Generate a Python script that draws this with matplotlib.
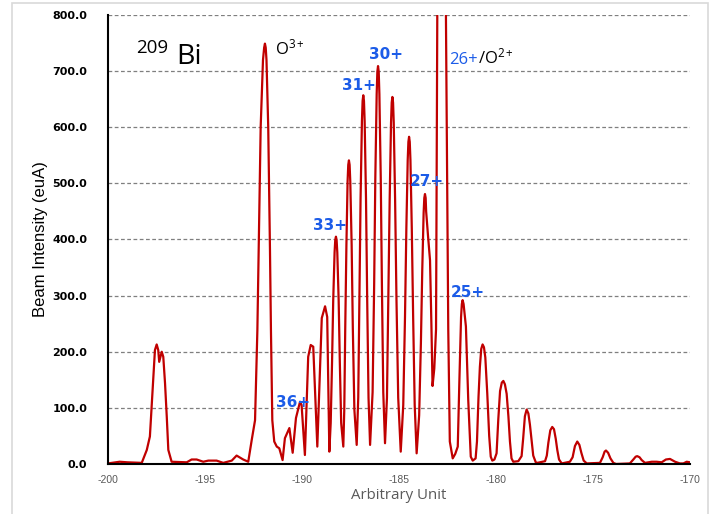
import matplotlib
matplotlib.use("Agg")
import matplotlib.pyplot as plt
from matplotlib.patches import Rectangle

# Beam intensity scan of the 209Bi charge-state spectrum
position = [
    -200.00, -199.40, -199.00, -198.26, -198.00, -197.84, -197.66, -197.58, -197.49, -197.41,
    -197.36, -197.23, -197.15, -197.06, -196.97, -196.89, -196.72, -195.94, -195.69, -195.43,
    -195.09, -194.83, -194.40, -194.06, -193.62, -193.37, -193.03, -192.77, -192.59, -192.42,
    -192.30, -192.13, -192.01, -191.95, -191.91, -191.87, -191.83, -191.74, -191.65, -191.60,
    -191.53, -191.43,
    -191.30, -191.17, -191.00, -190.88, -190.65, -190.48, -190.31, -190.10, -190.02, -189.85,
    -189.68, -189.55, -189.42, -189.21, -188.98, -188.81, -188.70, -188.59,
    -188.52, -188.45, -188.39, -188.32, -188.285, -188.25, -188.215, -188.18, -188.11, -188.05,
    -187.98, -187.87,
    -187.82, -187.77, -187.71, -187.65, -187.615, -187.58, -187.545, -187.51, -187.44, -187.38,
    -187.30, -187.18,
    -187.10, -187.04, -186.98, -186.91, -186.875, -186.84, -186.805, -186.77, -186.70, -186.64,
    -186.57, -186.49,
    -186.36, -186.28, -186.22, -186.15, -186.115, -186.08, -186.045, -186.01, -185.94, -185.88,
    -185.81, -185.72,
    -185.62, -185.55, -185.48, -185.41, -185.375, -185.34, -185.305, -185.27, -185.20, -185.13,
    -185.04, -184.91,
    -184.78, -184.69, -184.62, -184.55, -184.515, -184.48, -184.445, -184.41, -184.34, -184.27,
    -184.19, -184.09,
    -183.96, -183.87, -183.80, -183.73, -183.695, -183.66, -183.625, -183.60, -183.50, -183.40,
    -183.33, -183.27,
    -183.18, -183.09, -183.03, -182.95, -182.81, -182.67, -182.58, -182.46, -182.38, -182.23,
    -182.10, -181.97, -181.89, -181.80, -181.76, -181.72, -181.67, -181.60, -181.55, -181.43,
    -181.30, -181.20,
    -181.05, -180.98, -180.90, -180.83, -180.76, -180.69, -180.62, -180.55, -180.45, -180.35,
    -180.27, -180.19,
    -180.08, -179.97, -179.88, -179.79, -179.70, -179.62, -179.54, -179.45, -179.36, -179.28,
    -179.20, -179.11,
    -178.85, -178.68, -178.60, -178.51, -178.42, -178.33, -178.25, -178.16, -178.08, -177.95,
    -177.87,
    -177.47, -177.38, -177.30, -177.20, -177.10, -177.01, -176.92, -176.84, -176.75, -176.61,
    -176.19, -176.05, -175.93, -175.81, -175.70, -175.60, -175.48, -175.32,
    -174.64, -174.50, -174.40, -174.33, -174.22, -174.10, -173.95, -173.81,
    -173.10, -172.92, -172.80, -172.72, -172.60, -172.49, -172.32, -171.97, -171.72, -171.46,
    -171.24, -171.03, -170.77, -170.52, -170.34, -170.17, -170.00,
]
intensity = [
    1, 4, 3, 2, 25, 49, 155, 203, 213, 203,
    182, 200, 191, 144, 84, 25, 4, 3, 8, 8,
    4, 6, 6, 2, 6, 15, 8, 4, 43, 78,
    238, 600, 720, 742, 749, 742, 720, 600, 381, 238,
    78, 40,
    31, 28, 7, 46, 64, 20, 82, 111, 105, 16,
    191, 212, 209, 31, 260, 281, 262, 22,
    73, 182, 292, 377, 399, 405, 399, 377, 292, 182,
    73, 31,
    97, 243, 390, 503, 533, 541, 533, 503, 390, 243,
    97, 34,
    118, 296, 473, 611, 647, 657, 647, 611, 473, 296,
    118, 34,
    128, 319, 510, 659, 699, 709, 699, 659, 510, 319,
    128, 37,
    118, 294, 471, 608, 644, 654, 644, 608, 471, 294,
    118, 22,
    105, 262, 420, 542, 574, 583, 574, 542, 420, 262,
    105, 19,
    87, 216, 346, 447, 474, 481, 474, 450, 405, 363,
    250, 139,
    170, 240, 800, 1100, 1200, 1100, 800, 240, 40, 10,
    18, 31, 144, 262, 285, 292, 285, 262, 245, 114,
    13, 6,
    10, 40, 120, 173, 205, 213, 208, 190, 126, 50,
    13, 6,
    8, 19, 80, 130, 145, 148, 142, 125, 85, 40,
    10, 4,
    5, 14, 45, 85, 97, 90, 70, 40, 15, 3,
    2,
    5, 15, 38, 60, 66, 62, 45, 25, 8, 1,
    4, 12, 32, 40, 34, 20, 6, 1,
    2, 12, 22, 24, 20, 10, 2, 0,
    1, 8, 13, 14, 12, 7, 2, 4, 4, 3,
    8, 9, 4, 1, 1, 4, 3,
]

y_ticks = [0, 100, 200, 300, 400, 500, 600, 700, 800]
x_ticks = [-200, -195, -190, -185, -180, -175, -170]

charge_labels = ["36+", "33+", "31+", "30+", "27+", "25+"]

BLUE = "#1c5ce8"

plt.rcParams["mathtext.fontset"] = "custom"
plt.rcParams["mathtext.rm"] = "Open Sans"
plt.rcParams["mathtext.it"] = "Open Sans:italic"
plt.rcParams["mathtext.bf"] = "Open Sans:bold"

fig = plt.figure(figsize=(7.10, 5.14), dpi=100)
fig.patches.append(Rectangle((0.017, -0.05), 0.98, 1.044, transform=fig.transFigure,
                             fill=False, edgecolor="#d9d9d9", linewidth=1.2))
ax = fig.add_axes([0.1521, 0.0973, 0.8197, 0.8735])

ax.plot(position, intensity, color="#c00000", linewidth=1.6,
        solid_joinstyle="round", solid_capstyle="round", zorder=3)

ax.set_xlim(-200, -170)
ax.set_ylim(0, 800)
ax.set_yticks(y_ticks)
ax.set_yticklabels([f"{v:.1f}" for v in y_ticks], family="DejaVu Sans",
                   fontweight="bold", fontsize=8, color="black")
ax.set_xticks(x_ticks)
ax.set_xticklabels([str(v) for v in x_ticks], family="Liberation Sans",
                   fontsize=7.5, color="#595959")
ax.tick_params(axis="both", length=0)
ax.tick_params(axis="y", pad=15)
ax.tick_params(axis="x", pad=8)

ax.grid(axis="y", color="#7f7f7f", linestyle=(0, (3, 2)), linewidth=0.9)
ax.set_axisbelow(True)
for side in ("top", "right"):
    ax.spines[side].set_visible(False)
for side in ("left", "bottom"):
    ax.spines[side].set_color("black")
    ax.spines[side].set_linewidth(1.5)
    ax.spines[side].set_zorder(4)

ax.set_ylabel("Beam Intensity (euA)", family="Liberation Sans", fontsize=12, color="black", labelpad=3)
ax.set_xlabel("Arbitrary Unit", family="Open Sans", fontsize=10.8, color="#595959", labelpad=2)

# isotope tag
ax.text(-198.53, 732, "209", family="Open Sans", fontsize=13.5, color="black")
ax.text(-196.49, 713, "Bi", family="Open Sans", fontsize=20.5, color="black")

# oxygen contaminant labels
ax.text(-191.39, 729, r"O$\mathregular{^{3+}}$", family="Open Sans", fontsize=12, color="black")
t26 = ax.text(-182.42, 713, "26+", family="Open Sans", fontsize=12, color=BLUE)
ax.annotate(r"/O$\mathregular{^{2+}}$", xy=(1, 0), xycoords=t26, va="bottom", ha="left",
            family="Open Sans", fontsize=12, color="black")

# bismuth charge states
label_anchor = [(-191.36, 102), (-189.45, 417), (-187.94, 667), (-186.53, 721), (-184.43, 496), (-182.32, 298)]
for text, (lx, ly) in zip(charge_labels, label_anchor):
    ax.text(lx, ly, text, family="DejaVu Sans", fontweight="bold", fontsize=11, color=BLUE)

fig.savefig("out.png", dpi=100)
